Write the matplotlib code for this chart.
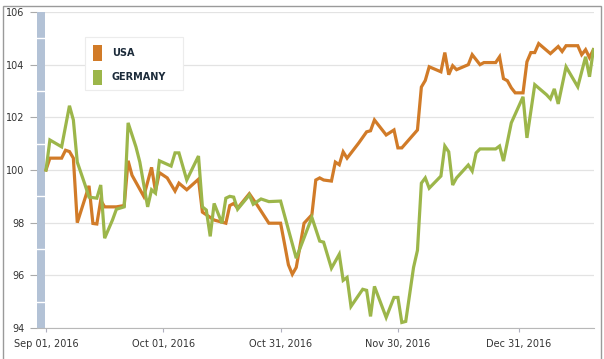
import matplotlib
matplotlib.use("Agg")
import matplotlib.pyplot as plt
import matplotlib.dates as mdates
from matplotlib.patches import Rectangle
import pandas as pd

start_date = pd.Timestamp("2016-09-01")

usa_days = [0,1,4,5,6,7,8,11,12,13,14,15,18,20,21,22,25,27,28,29,31,33,34,36,39,40,41,43,46,47,
            48,49,52,54,57,60,61,62,63,64,66,68,69,70,71,73,74,75,76,77,80,82,83,84,87,89,90,91,95,96,
            97,98,101,102,103,104,105,108,109,111,112,115,116,117,118,119,120,122,123,124,125,126,129,131,132,133,136,137,138,139,140]
usa_vals = [100.0,100.45,100.45,100.75,100.7,100.45,98.0,99.4,97.97,97.95,98.85,98.6,98.6,98.65,100.35,99.8,99.0,100.1,99.2,99.9,
            99.7,99.2,99.5,99.25,99.65,98.4,98.3,98.1,97.98,98.65,98.73,98.55,99.1,98.67,97.98,97.98,97.2,96.4,96.04,96.3,
            97.98,98.3,99.62,99.7,99.62,99.58,100.3,100.2,100.69,100.45,101.03,101.45,101.49,101.9,101.33,101.52,100.84,100.84,101.52,103.15,
            103.4,103.92,103.73,104.46,103.62,103.96,103.81,104.0,104.38,104.0,104.08,104.08,104.3,103.47,103.39,103.12,102.93,102.93,104.11,104.46,
            104.46,104.8,104.42,104.69,104.5,104.72,104.72,104.38,104.57,104.27,104.57]

ger_days = [0,1,4,6,7,8,10,11,13,14,15,17,18,20,21,23,24,26,27,28,29,32,33,34,36,39,40,41,42,43,
            45,46,47,48,49,52,53,55,57,60,64,68,70,71,73,75,76,77,78,81,82,83,84,87,89,90,91,92,94,95,
            96,97,98,101,102,103,104,105,108,109,110,111,115,116,117,119,122,123,125,128,129,130,131,133,136,138,139,140]
ger_vals = [100.0,101.14,100.88,102.44,101.9,100.3,99.43,98.97,98.93,99.43,97.41,98.1,98.51,98.6,101.79,100.88,100.3,98.6,99.25,99.12,
            100.35,100.15,100.65,100.65,99.62,100.53,98.6,98.48,97.48,98.73,97.98,98.93,99.0,98.97,98.51,99.05,98.7,98.9,98.8,98.82,
            96.65,98.2,97.3,97.26,96.27,96.8,95.81,95.92,94.82,95.47,95.43,94.44,95.58,94.4,95.16,95.16,94.21,94.25,96.3,96.95,
            99.5,99.7,99.31,99.77,100.91,100.69,99.43,99.7,100.19,99.96,100.65,100.8,100.8,100.91,100.34,101.79,102.78,101.22,103.24,102.86,
            102.7,103.08,102.51,103.92,103.16,104.3,103.54,104.57]

series_names = ["USA", "GERMANY"]
series_colors = ["#d17b28", "#9cb64a"]
tick_dates = ["2016-09-01", "2016-10-01", "2016-10-31", "2016-11-30", "2016-12-31"]
y_ticks = [94, 96, 98, 100, 102, 104, 106]

usa_dates = start_date + pd.to_timedelta(usa_days, unit="D")
ger_dates = start_date + pd.to_timedelta(ger_days, unit="D")

fig = plt.figure(figsize=(6.04, 3.59), dpi=100)
ax = fig.add_axes([37/604, 1-328/359, 557/604, 316/359])

ax.plot(usa_dates, usa_vals, color=series_colors[0], lw=2.3, solid_joinstyle="miter", zorder=3)
ax.plot(ger_dates, ger_vals, color=series_colors[1], lw=2.3, solid_joinstyle="miter", zorder=4)

ax.set_ylim(94, 106)
ax.set_xlim(start_date - pd.Timedelta(days=2.3), start_date + pd.Timedelta(days=140.15))
ax.set_yticks(y_ticks)
ax.set_xticks(pd.to_datetime(tick_dates))
ax.xaxis.set_major_formatter(mdates.DateFormatter("%b %d, %Y"))
ax.grid(axis="y", color="#e3e3e3", lw=0.9)
ax.set_axisbelow(True)
for s in ["top", "right", "left"]:
    ax.spines[s].set_visible(False)
ax.spines["bottom"].set_color("#b8b8b8")
ax.tick_params(axis="y", length=5, color="#aaaaaa", pad=4, labelsize=7, labelcolor="#333333")
ax.tick_params(axis="x", length=3, color="#b0b0c0", pad=5, labelsize=7, labelcolor="#333333")

# left range bar
ax.add_patch(Rectangle((0, 0), 8/557, 1, transform=ax.transAxes, facecolor="#b3c2d6",
                       edgecolor="none", zorder=2, clip_on=False))
for yv in [95, 97, 99, 101, 103, 105]:
    ax.axhline(yv, xmin=0, xmax=8/557, color="white", lw=1, zorder=2.5)

# legend
ax.add_patch(Rectangle(((85-37)/557, 1-(90-12)/316), 98/557, 53/316, transform=ax.transAxes,
                       facecolor="white", edgecolor="#ececec", lw=0.8, zorder=5))
for i, (name, col) in enumerate(zip(series_names, series_colors)):
    yc = 53 + i*24.5
    ax.add_patch(Rectangle(((92.5-37)/557, 1-(yc+7.5-12)/316), 9/557, 15/316,
                           transform=ax.transAxes, facecolor=col, edgecolor="none", zorder=6))
    ax.text((112-37)/557, 1-(yc-12)/316, name, transform=ax.transAxes, fontsize=7,
            fontweight="bold", color="#1c2b3a", va="center", ha="left", zorder=6)

# outer frame
fig.patches.append(Rectangle((3/604, -0.01), 598/604, 356.5/359, transform=fig.transFigure,
                             facecolor="none", edgecolor="#9a9a9a", lw=1))

fig.savefig("out.png", dpi=100)
